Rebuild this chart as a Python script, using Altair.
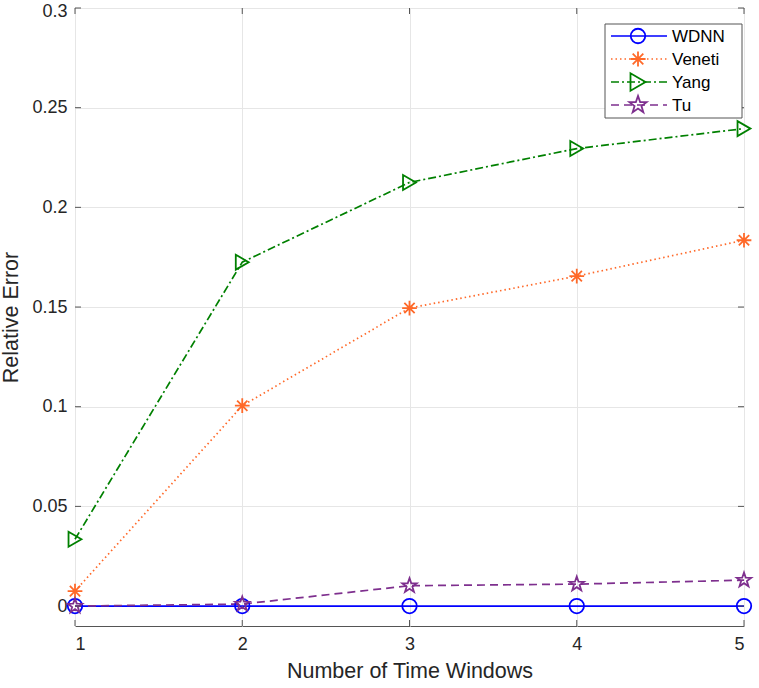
import math
import altair as alt
import pandas as pd

# ---- data -------------------------------------------------------------
windows = [1, 2, 3, 4, 5]
series_names = ["WDNN", "Veneti", "Yang", "Tu"]
wdnn = [0.0, 0.0, 0.0, 0.0, 0.0]
veneti = [0.0075, 0.1005, 0.1495, 0.1655, 0.1835]
yang = [0.0335, 0.1725, 0.2125, 0.2295, 0.2395]
tu = [0.0, 0.001, 0.0102, 0.011, 0.013]

x_ticks = [1, 2, 3, 4, 5]
y_ticks = [0, 0.05, 0.1, 0.15, 0.2, 0.25, 0.3]

# ---- styling ----------------------------------------------------------
colors = ["#0000FF", "#FF6929", "#008000", "#7E2F8E"]
dashes = [[1, 0], [1.5, 3], [8, 3, 2, 3], [8, 5]]


def star_path(n=5, inner=0.40):
    pts = []
    for k in range(2 * n):
        r = 1.0 if k % 2 == 0 else inner
        a = math.radians(-90 + k * 180 / n)
        pts.append(f"{r * math.cos(a):.3f},{r * math.sin(a):.3f}")
    return "M" + "L".join(pts) + "Z"


asterisk = "M-1,0L1,0M0,-1L0,1M-0.7,-0.7L0.7,0.7M-0.7,0.7L0.7,-0.7"
shapes = ["circle", asterisk, "triangle-right", star_path()]
sizes = [210, 230, 300, 330]

W, H = 669, 618
FONT = "Liberation Sans"
AXIS_C = "#555555"
TEXT_C = "#262626"

rows = []
for name, vals in zip(series_names, [wdnn, veneti, yang, tu]):
    for xv, yv in zip(windows, vals):
        rows.append({"window": xv, "error": yv, "series": name})
df = pd.DataFrame(rows)

xs = alt.Scale(domain=[1, 5], nice=False, zero=False)
ys = alt.Scale(domain=[-0.01, 0.3], nice=False, zero=False)

color_enc = alt.Color("series:N", scale=alt.Scale(domain=series_names, range=colors), legend=None)

x_axis = alt.Axis(values=x_ticks, format="d", ticks=False, domain=False,
                  grid=True, gridColor="#E6E6E6", labelFontSize=18, labelFont=FONT,
                  labelColor=TEXT_C, labelPadding=9, title="Number of Time Windows",
                  titleFontSize=21.5, titleFont=FONT, titleFontWeight="normal",
                  titleColor=TEXT_C, titlePadding=7)
y_axis = alt.Axis(values=y_ticks, format="~g", ticks=False, domain=False,
                  grid=True, gridColor="#E6E6E6", labelFontSize=18, labelFont=FONT,
                  labelColor=TEXT_C, labelPadding=8, title="Relative Error",
                  titleFontSize=21.5, titleFont=FONT, titleFontWeight="normal",
                  titleColor=TEXT_C, titlePadding=9,
                  # nudge the topmost label down so it stays inside the page
                  labelOffset={"condition": {"test": "datum.value >= 0.3", "value": 3}, "value": 0})

base = alt.Chart(df)

lines = base.mark_line(strokeWidth=1.7).encode(
    x=alt.X("window:Q", scale=xs, axis=x_axis),
    y=alt.Y("error:Q", scale=ys, axis=y_axis),
    color=color_enc,
    strokeDash=alt.StrokeDash("series:N", scale=alt.Scale(domain=series_names, range=dashes), legend=None),
    detail="series:N",
)

points = base.mark_point(filled=False, strokeWidth=1.8, opacity=1).encode(
    x=alt.X("window:Q", scale=xs),
    y=alt.Y("error:Q", scale=ys),
    color=color_enc,
    shape=alt.Shape("series:N", scale=alt.Scale(domain=series_names, range=shapes), legend=None),
    size=alt.Size("series:N", scale=alt.Scale(domain=series_names, range=sizes), legend=None),
)

# inward tick marks on all four sides of the box
xt = pd.DataFrame({"t": x_ticks})
yt = pd.DataFrame({"t": y_ticks})
tick_len = 6
ticks_bottom = alt.Chart(xt).mark_rule(color=AXIS_C).encode(
    x=alt.X("t:Q", scale=xs), y=alt.value(H), y2=alt.value(H - tick_len))
ticks_top = alt.Chart(xt).mark_rule(color=AXIS_C).encode(
    x=alt.X("t:Q", scale=xs), y=alt.value(0), y2=alt.value(tick_len))
ticks_left = alt.Chart(yt).mark_rule(color=AXIS_C).encode(
    y=alt.Y("t:Q", scale=ys), x=alt.value(0), x2=alt.value(tick_len))
ticks_right = alt.Chart(yt).mark_rule(color=AXIS_C).encode(
    y=alt.Y("t:Q", scale=ys), x=alt.value(W), x2=alt.value(W - tick_len))

# legend box with line + marker samples
one = alt.Data(values=[{}])
leg_x0, leg_x1, leg_y0, leg_y1 = 530, 667, 16, 110
row_y = [28, 51, 74, 97]
legend_layers = [
    alt.Chart(one).mark_rect(fill="white", stroke=AXIS_C, strokeWidth=1).encode(
        x=alt.value(leg_x0), x2=alt.value(leg_x1), y=alt.value(leg_y0), y2=alt.value(leg_y1))
]
for name, c, d, s, sz, ry in zip(series_names, colors, dashes, shapes, sizes, row_y):
    legend_layers.append(
        alt.Chart(one).mark_rule(color=c, strokeWidth=1.7, strokeDash=d).encode(
            x=alt.value(536), x2=alt.value(592), y=alt.value(ry)))
    legend_layers.append(
        alt.Chart(one).mark_point(shape=s, color=c, filled=False, strokeWidth=1.8,
                                  size=sz, opacity=1).encode(
            x=alt.value(563), y=alt.value(ry)))
    legend_layers.append(
        alt.Chart(one).mark_text(text=name, align="left", baseline="middle",
                                 font=FONT, fontSize=17, color="black").encode(
            x=alt.value(597), y=alt.value(ry + 1)))

chart = alt.layer(
    lines, points, ticks_bottom, ticks_top, ticks_left, ticks_right, *legend_layers
).properties(
    width=W, height=H,
    autosize=alt.AutoSizeParams(type="none"),
    padding={"left": 75, "top": 8, "right": 15, "bottom": 62},
    background="white",
).configure_view(stroke=AXIS_C, strokeWidth=1)

chart.save("out.html", embed_options={"renderer": "svg", "actions": False})
